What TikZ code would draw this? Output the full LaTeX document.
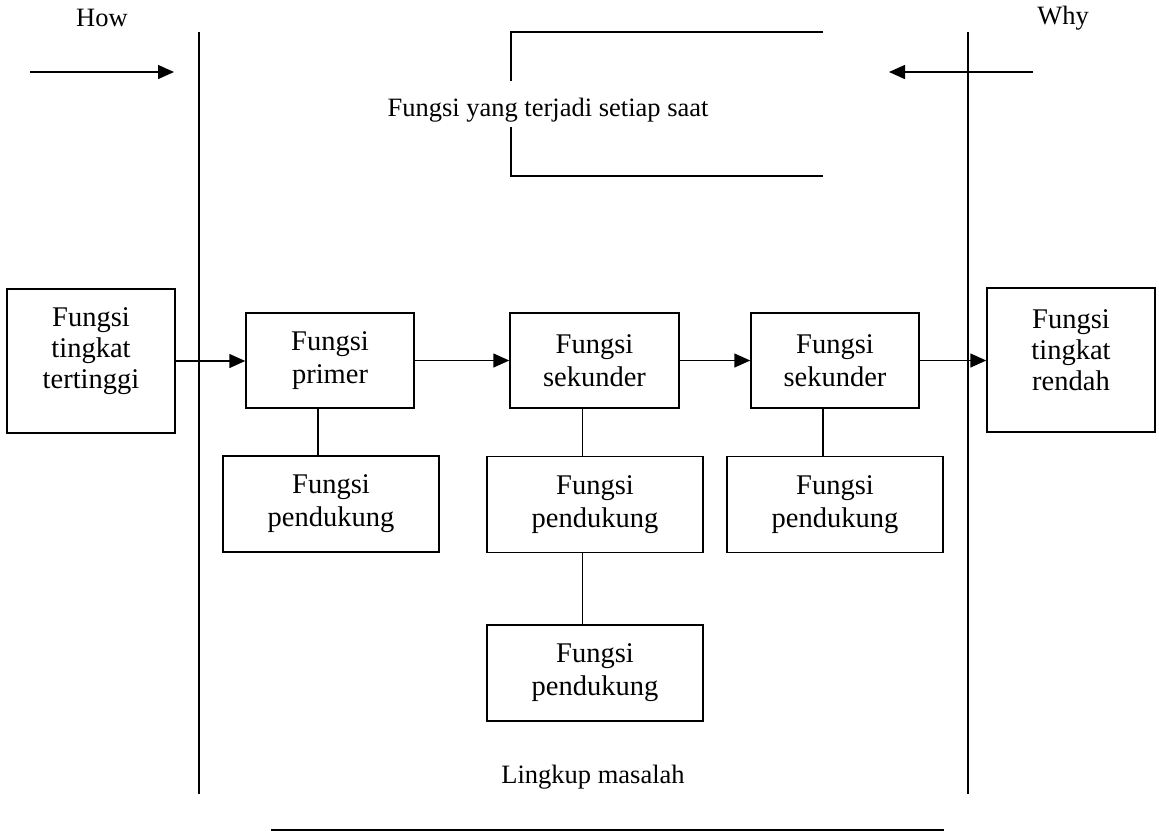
\documentclass[tikz,border=0pt]{standalone}
\usepackage{fontspec}
\setmainfont{Liberation Serif}
\usetikzlibrary{arrows.meta,calc}
\begin{document}
\begin{tikzpicture}[x=1pt,y=-1pt,
  ln/.style={line width=1.5pt},
  arr/.style={ln,-{Triangle[length=16pt,width=14pt]}},
  boxnode/.style={draw,ln,inner sep=0pt,minimum width=168pt,minimum height=95pt,
    align=center,font=\fontsize{28.5}{33}\selectfont},
  bigbox/.style={boxnode,minimum height=144pt},
  pendbox/.style={boxnode,minimum width=216pt,minimum height=96pt},
  lbl/.style={inner sep=0pt,font=\fontsize{26.5}{30}\selectfont}]
\useasboundingbox (0,0) rectangle (1159,831);
% labels
\node[lbl] (how) at (102,18) {How};
\node[lbl] (why) at (1063,18) {Why};
\node[lbl] (setiap) at (548,110) {Fungsi yang terjadi setiap saat};
\node[lbl] (lingkup) at (593,777) {Lingkup masalah};
% scope lines
\coordinate (l1) at (199,32); \coordinate (l2) at (199,794);
\coordinate (r1) at (968,32); \coordinate (r2) at (968,794);
\draw[ln] (l1) -- (l2);
\draw[ln] (r1) -- (r2);
\coordinate (b1) at (271,830); \coordinate (b2) at (944,830);
\draw[line width=1.8pt] (b1) -- (b2);
% top arrows
\coordinate (ha) at (30,72); \coordinate (hb) at (174,72);
\coordinate (wa) at (1033,72); \coordinate (wb) at (889,72);
\draw[arr] (ha) -- (hb);
\draw[arr] (wa) -- (wb);
% bracket
\coordinate (k1) at (823,32); \coordinate (k2) at (511,32); \coordinate (k3) at (511,81);
\coordinate (k4) at (511,127); \coordinate (k5) at (511,176); \coordinate (k6) at (823,176);
\draw[ln] (k1) -- (k2) -- (k3);
\draw[ln] (k4) -- (k5) -- (k6);
% boxes
\node[bigbox,label={[yshift=10pt,align=center,font=\fontsize{28.5}{31}\selectfont]center:Fungsi\\tingkat\\tertinggi}] (top) at (91,361) {};
\node[boxnode] (prim) at (330,360.5) {Fungsi\\primer};
\node[boxnode,minimum width=169pt] (sek1) at (594.5,360.5) {Fungsi\\sekunder};
\node[boxnode] (sek2) at (835,360.5) {Fungsi\\sekunder};
\node[bigbox,label={[yshift=10pt,align=center,font=\fontsize{28.5}{31}\selectfont]center:Fungsi\\tingkat\\rendah}] (low) at (1071,360) {};
\node[pendbox] (p1) at (331,504) {Fungsi\\pendukung};
\node[pendbox] (p2) at (595,504.5) {Fungsi\\pendukung};
\node[pendbox] (p3) at (835,504.5) {Fungsi\\pendukung};
\node[pendbox] (p4) at (595,673) {Fungsi\\pendukung};
% arrows
\draw[arr] (top.east) -- (top.east -| prim.west);
\draw[arr] (prim.east) -- (prim.east -| sek1.west);
\draw[arr] (sek1.east) -- (sek1.east -| sek2.west);
\draw[arr] (sek2.east) -- (sek2.east -| low.west);
% support connectors
\coordinate (c1) at ($(prim.south west)!0.43!(prim.south east)$);
\coordinate (c2) at ($(sek1.south west)!0.43!(sek1.south east)$);
\coordinate (c3) at ($(sek2.south west)!0.43!(sek2.south east)$);
\draw[ln] (c1) -- (c1 |- p1.north);
\draw[ln] (c2) -- (c2 |- p2.north);
\draw[ln] (c3) -- (c3 |- p3.north);
\draw[ln] (p2.south -| c2) -- (c2 |- p4.north);
\end{tikzpicture}
\end{document}
